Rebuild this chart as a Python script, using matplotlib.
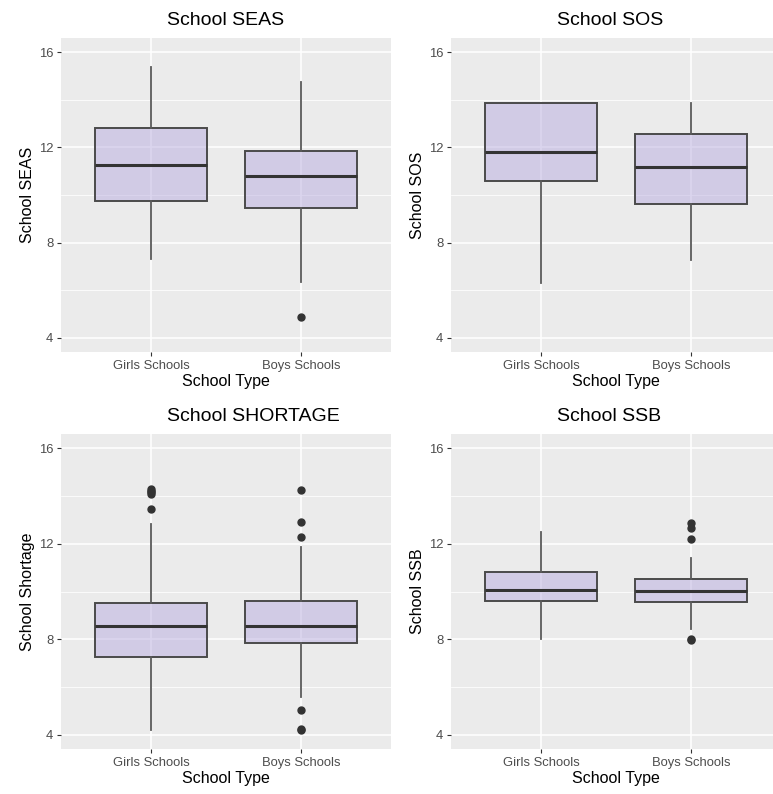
#!/usr/bin/env python3
import matplotlib as mpl
mpl.use("Agg")
import matplotlib.pyplot as plt
from matplotlib.ticker import MultipleLocator

mpl.rcParams.update({
	"font.family": ["Liberation Sans", "DejaVu Sans"],
	"axes.linewidth": 0,
})

SCHOOL_TYPES = ["Girls Schools", "Boys Schools"]
TITLES = ["School SEAS", "School SOS", "School SHORTAGE", "School SSB"]
YLABELS = ["School SEAS", "School SOS", "School Shortage", "School SSB"]

# whisker low, q1, median, q3, whisker high
SEAS_GIRLS = [7.31, 9.75, 11.27, 12.80, 15.36]
SEAS_BOYS = [6.34, 9.44, 10.81, 11.85, 14.77]
SOS_GIRLS = [6.31, 10.59, 11.79, 13.86, 13.86]
SOS_BOYS = [7.25, 9.64, 11.16, 12.56, 13.86]
SHORTAGE_GIRLS = [4.21, 7.26, 8.55, 9.51, 12.81]
SHORTAGE_BOYS = [5.58, 7.86, 8.55, 9.61, 11.85]
SSB_GIRLS = [7.99, 9.61, 10.06, 10.83, 12.49]
SSB_BOYS = [8.41, 9.58, 10.01, 10.52, 11.41]

# outliers
SEAS_GIRLS_OUT = []
SEAS_BOYS_OUT = [4.87]
SOS_GIRLS_OUT = []
SOS_BOYS_OUT = []
SHORTAGE_GIRLS_OUT = [13.44, 14.07, 14.15, 14.22, 14.31]
SHORTAGE_BOYS_OUT = [4.18, 4.25, 5.05, 12.29, 12.91, 14.25]
SSB_GIRLS_OUT = []
SSB_BOYS_OUT = [7.95, 8.0, 12.18, 12.67, 12.85]

PANELS = [
	(SEAS_GIRLS, SEAS_GIRLS_OUT, SEAS_BOYS, SEAS_BOYS_OUT),
	(SOS_GIRLS, SOS_GIRLS_OUT, SOS_BOYS, SOS_BOYS_OUT),
	(SHORTAGE_GIRLS, SHORTAGE_GIRLS_OUT, SHORTAGE_BOYS, SHORTAGE_BOYS_OUT),
	(SSB_GIRLS, SSB_GIRLS_OUT, SSB_BOYS, SSB_BOYS_OUT),
]

W, H = 773.0, 794.0
# axes rects in pixels: left, top, width, height
RECTS = [
	(61, 38, 330, 314),
	(451, 38, 330, 314),
	(61, 434, 330, 315),
	(451, 434, 330, 315),
]

def stats(five, out, label):
	lo, q1, med, q3, hi = five
	return {"whislo": lo, "q1": q1, "med": med, "q3": q3, "whishi": hi, "fliers": out, "label": label}

def draw(ax, panel, title, ylabel):
	g, gout, b, bout = panel
	bs = [stats(g, gout, SCHOOL_TYPES[0]), stats(b, bout, SCHOOL_TYPES[1])]

	ax.set_facecolor("#EBEBEB")
	ax.set_axisbelow(True)
	ax.yaxis.set_major_locator(MultipleLocator(4))
	ax.yaxis.set_minor_locator(MultipleLocator(2))
	ax.grid(which="major", color="white", linewidth=1.1)
	ax.grid(which="minor", axis="y", color="white", linewidth=0.55)

	# semi-transparent fill, solid edge
	ax.bxp(bs, positions=[1, 2], widths=0.75, patch_artist=True, showcaps=False,
		boxprops=dict(facecolor=(0.725, 0.68, 0.88, 0.5), edgecolor="#4a4a4a", linewidth=1.4),
		whiskerprops=dict(color="#5a5a5a", linewidth=1.3),
		medianprops=dict(color="#333333", linewidth=2.2),
		flierprops=dict(marker="o", markerfacecolor="#333333", markeredgecolor="#333333", markersize=5))

	ax.set_xlim(0.4, 2.6)
	ax.set_ylim(3.4, 16.6)
	ax.set_xticks([1, 2])
	ax.set_xticklabels(SCHOOL_TYPES)
	ax.tick_params(which="major", length=3, width=0.8, color="#333333", labelcolor="#4D4D4D", labelsize=9.4, pad=2.5)
	ax.tick_params(which="minor", length=0)
	ax.minorticks_on()
	ax.xaxis.set_minor_locator(mpl.ticker.NullLocator())
	ax.yaxis.set_minor_locator(MultipleLocator(2))

	ax.set_xlabel("School Type", fontsize=11.5, labelpad=1.5)
	ax.set_ylabel(ylabel, fontsize=11.5, labelpad=3)
	ax.text(0.321, 1.041, title, transform=ax.transAxes, ha="left", va="baseline", fontsize=14)

def main():
	fig = plt.figure(figsize=(W / 100, H / 100), dpi=100)
	for rect, panel, title, ylabel in zip(RECTS, PANELS, TITLES, YLABELS):
		x, y, w, h = rect
		ax = fig.add_axes([x / W, 1 - (y + h) / H, w / W, h / H])
		draw(ax, panel, title, ylabel)
	fig.savefig("out.png", dpi=100)

if __name__ == "__main__":
	main()
